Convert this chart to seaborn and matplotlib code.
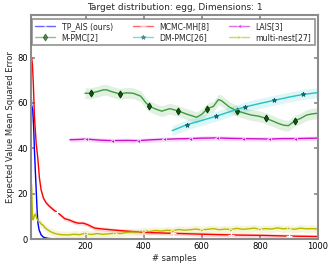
import numpy as np
import matplotlib
matplotlib.use('Agg')
import matplotlib.pyplot as plt
import seaborn as sns

# values
tp_x = [14, 18, 21, 24, 27, 30, 33, 36, 40, 47, 55, 70, 90, 100, 200, 300, 400, 500, 600, 700, 800, 900, 1000]
tp_y = [59, 57, 50, 39, 30, 21.6, 13, 7, 4, 1.8, 0.8, 0.3, 0.1, 0.05, 0.05, 0.05, 0.05, 0.05, 0.05, 0.05, 0.05, 0.05, 0.05]
tp_sd = [4, 3.5, 3, 2.5, 2, 1.5, 1.2, 1, 0.8, 0.5, 0.3, 0.2, 0.1, 0.1, 0.1, 0.1, 0.1, 0.1, 0.1, 0.1, 0.1, 0.1, 0.1]

mh_x = [14, 17, 20, 24, 30, 36, 41, 47, 55, 64, 75, 93, 100, 110, 128, 146, 160, 174, 192, 208, 220, 232,
        260, 294, 350, 410, 500, 582, 700, 811, 900, 1000]
mh_y = [80, 77, 69, 54, 42, 35, 27, 21.6, 18, 16, 14.5, 12.5, 12, 11, 9, 8.3, 7.5, 7, 7, 6.3, 5.5, 4.8,
        4.4, 4, 3.4, 2.9, 2.5, 2.2, 1.8, 1.6, 1.3, 1.1]
mh_sd = 0.9

mpmc_x = [198, 217, 240, 261, 272, 290, 318, 340, 364, 390, 405, 419, 440, 462, 490, 519, 550, 582, 600,
          619, 640, 657, 668, 695, 720, 745, 770, 795, 820, 845, 863, 882, 898, 921, 940, 961, 980, 1000]
mpmc_y = [64.3, 64.3, 65, 65.8, 65.8, 65, 64, 64.5, 64.3, 63, 60.5, 58.6, 57.4, 56.4, 57.5, 56.5, 55, 53.7, 55,
          57.5, 58.5, 61.5, 61, 58.2, 56.6, 55.6, 54.7, 54.2, 53.3, 52, 51, 50.2, 50, 52.2, 53.2, 54.7, 55.2, 55.5]
mpmc_sd = 2.4

dm_x = [498, 550, 600, 650, 700, 750, 800, 850, 900, 950, 1000]
dm_y = [47.8, 50.5, 52.3, 54.2, 56.3, 58.3, 59.8, 61.2, 62.6, 63.8, 64.6]
dm_sd = 2.2

lais_x = [146, 175, 201, 250, 292, 340, 381, 430, 470, 520, 559, 600, 651, 700, 743, 790, 832, 880, 922, 960, 1000]
lais_y = [43.8, 43.9, 44.1, 43.6, 43.4, 43.5, 43.4, 43.8, 44, 44.2, 44.3, 44.5, 44.6, 44.4, 44.3, 44.2, 44.1, 44.3,
          44.3, 44.4, 44.5]
lais_sd = 1.0

mn_x = [14, 16, 18, 21, 24, 27, 31, 36, 42, 48, 53, 60, 70, 80, 93, 105, 120, 140, 160, 180, 200, 210, 220,
        240, 260, 280, 300, 320, 340, 360, 380, 400, 420, 440, 460, 480, 500, 520, 540, 560, 580, 600,
        620, 640, 660, 680, 700, 720, 740, 760, 780, 800, 820, 840, 860, 880, 900, 920, 940, 960, 980, 1000]
mn_y = [24, 15, 8.5, 9, 10.5, 11, 9.5, 8, 7.5, 6.5, 6.2, 5, 4, 3.2, 2.5, 2.1, 1.9, 1.8, 2.1, 1.9, 2.6, 2.2, 2.0,
        2.4, 2.1, 2.3, 2.6, 2.4, 2.9, 3.1, 3.0, 3.6, 3.3, 3.8, 3.5, 3.9, 3.7, 4.2, 3.9, 4.1, 4.4, 4.0,
        4.3, 4.6, 4.1, 4.4, 4.2, 4.7, 4.3, 4.5, 4.8, 4.3, 4.6, 4.4, 4.9, 4.5, 4.7, 4.3, 4.8, 4.5, 4.6, 4.4]
mn_sd = 1.6

tp_marks = [100, 200, 300, 400, 500, 600, 700, 800, 900]
mpmc_marks = [217, 318, 419, 519, 619, 720, 820, 921]
dm_marks = [550, 650, 750, 850, 950]
lais_marks = [201, 292, 381, 470, 559, 651, 743, 832, 922]

sns.set_theme(style='white', rc={
    'axes.edgecolor': '#8c8c8c', 'axes.linewidth': 1.5,
    'xtick.direction': 'in', 'ytick.direction': 'in',
    'xtick.top': True, 'ytick.right': True,
    'xtick.bottom': True, 'ytick.left': True,
    'xtick.color': '#8c8c8c', 'ytick.color': '#8c8c8c',
    'xtick.labelcolor': 'black', 'ytick.labelcolor': 'black',
    'xtick.major.size': 3, 'ytick.major.size': 3,
    'font.size': 6})
plt.rcParams['font.family'] = ['DejaVu Sans']

fig = plt.figure(figsize=(3.33, 2.65), dpi=100)
ax = fig.add_axes([0.093, 0.098, 0.862, 0.847])


def idx(xs, marks):
    return [i for i, v in enumerate(xs) if v in marks]


def draw(xs, ys, sd, color, label, **kw):
    xs = np.array(xs, dtype=float)
    ys = np.array(ys, dtype=float)
    sd = np.broadcast_to(np.array(sd, dtype=float), ys.shape)
    ax.fill_between(xs, np.clip(ys - sd, 0, None), ys + sd, color=color, alpha=0.15, lw=0)
    sns.lineplot(x=xs, y=ys, ax=ax, color=color, label=label, lw=1, sort=False, errorbar=None, **kw)


draw(tp_x, tp_y, tp_sd, 'blue', 'TP_AIS (ours)', marker='x', ms=3, mew=0.8,
     markevery=idx(tp_x, tp_marks))
draw(mpmc_x, mpmc_y, mpmc_sd, '#3c9c3c', 'M-PMC[2]', marker='d', ms=3.5, mfc='#0b5a0b', mec='#0b3a0b',
     markevery=idx(mpmc_x, mpmc_marks))
draw(mh_x, mh_y, mh_sd, 'red', 'MCMC-MH[8]', marker='+', ms=4, mew=0.8,
     markevery=idx(mh_x, tp_marks))
draw(dm_x, dm_y, dm_sd, '#1fc4c4', 'DM-PMC[26]', marker='*', ms=3.5, mfc='#1a6f80', mec='#12506a', mew=0.5,
     markevery=idx(dm_x, dm_marks))
draw(lais_x, lais_y, lais_sd, '#d010d0', 'LAIS[3]', marker='<', ms=3, mew=0.5,
     markevery=idx(lais_x, lais_marks))
draw(mn_x, mn_y, mn_sd, '#b8b800', 'multi-nest[27]', marker='>', ms=2.5, mew=0.5,
     markevery=idx(mn_x, tp_marks))

ax.set_xlim(12, 1000)
ax.set_ylim(0, 99)
ax.set_xticks([200, 400, 600, 800, 1000])
ax.set_yticks([0, 20, 40, 60, 80])
ax.tick_params(labelsize=6, pad=2)
ax.set_xlabel('# samples', fontsize=6, labelpad=2)
ax.set_ylabel('Expected Value Mean Squared Error', fontsize=6, labelpad=2)
ax.set_title('Target distribution: egg, Dimensions: 1', fontsize=6.5, pad=3)

leg = ax.legend(loc='upper left', ncol=3, mode='expand', bbox_to_anchor=(0.004, 0.982, 0.984, 0),
                borderaxespad=0, fontsize=5.6, frameon=True, fancybox=False, edgecolor='#777777',
                handlelength=2.6, columnspacing=1.0, labelspacing=0.3, borderpad=0.4)
leg.get_frame().set_linewidth(1.2)
for h in leg.get_lines():
    h.set_alpha(0.6)

fig.savefig('out.png', dpi=100)
